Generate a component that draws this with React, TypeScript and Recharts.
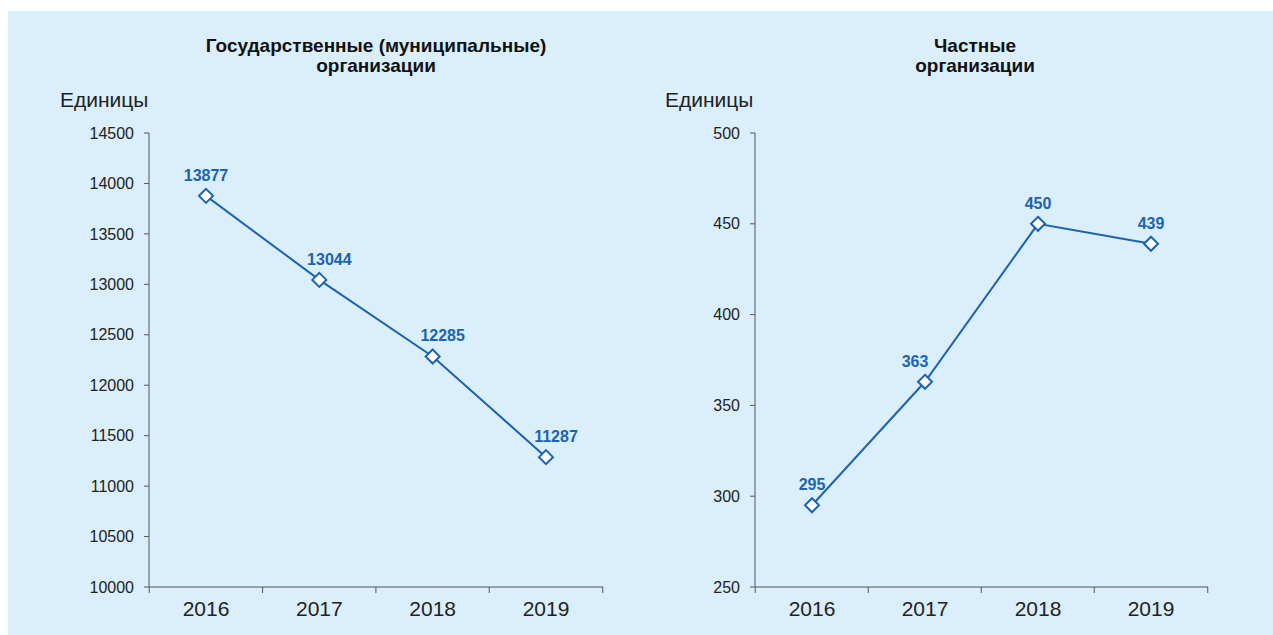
import { LabelList, Line, LineChart, XAxis, YAxis } from 'recharts'

const years = ['2016', '2017', '2018', '2019']
const publicOrgs = [13877, 13044, 12285, 11287]
const privateOrgs = [295, 363, 450, 439]
const publicTicks = [10000, 10500, 11000, 11500, 12000, 12500, 13000, 13500, 14000, 14500]
const privateTicks = [250, 300, 350, 400, 450, 500]

const publicData = years.map((year, i) => ({ year, value: publicOrgs[i] }))
const privateData = years.map((year, i) => ({ year, value: privateOrgs[i] }))

// nudges for value labels so they don't sit on the line
const publicLabelDx = [0, 10, 10, 10]
const privateLabelDx = [0, -10, 0, 0]

const blue = '#1b63b2'
const axisGray = '#555'
const font = '"Liberation Sans", Arial, sans-serif'
const halfStep = 56.75

function Diamond(props: any) {
  const { cx, cy } = props
  if (cx == null || cy == null) return null
  const r = 7
  return (
    <path
      d={`M${cx},${cy - r}L${cx + r},${cy}L${cx},${cy + r}L${cx - r},${cy}Z`}
      fill="#fff"
      stroke={blue}
      strokeWidth={2}
    />
  )
}

// year label centred on the point, tick marks on the band edges
function YearTick(props: any) {
  const { x, y, payload, index } = props
  return (
    <g>
      <line x1={x - halfStep} x2={x - halfStep} y1={y} y2={y + 6} stroke={axisGray} />
      {index === years.length - 1 && (
        <line x1={x + halfStep} x2={x + halfStep} y1={y} y2={y + 6} stroke={axisGray} />
      )}
      <text
        x={x}
        y={y + 29}
        textAnchor="middle"
        fill="#222"
        fontSize={21}
        fontFamily={font}
      >
        {payload.value}
      </text>
    </g>
  )
}

function makeValueLabel(dx: number[]) {
  return (props: any) => {
    const { x, y, value, index } = props
    return (
      <text
        x={x + dx[index]}
        y={y - 15}
        textAnchor="middle"
        fill={blue}
        fontSize={16}
        fontWeight="bold"
        fontFamily={font}
      >
        {value}
      </text>
    )
  }
}

interface PanelProps {
  data: { year: string; value: number }[]
  ticks: number[]
  labelDx: number[]
  left: number
  margin: { top: number; right: number; bottom: number; left: number }
}

function Panel({ data, ticks, labelDx, left, margin }: PanelProps) {
  return (
    <div style={{ position: 'absolute', left, top: 0 }}>
      <LineChart width={620} height={624} data={data} margin={margin}>
        <XAxis
          dataKey="year"
          padding={{ left: 57, right: 57 }}
          axisLine={{ stroke: axisGray }}
          tickLine={false}
          tickSize={0}
          tickMargin={0}
          height={40}
          interval={0}
          tick={<YearTick />}
        />
        <YAxis
          domain={[ticks[0], ticks[ticks.length - 1]]}
          ticks={ticks}
          interval={0}
          width={60}
          axisLine={{ stroke: axisGray }}
          tickLine={{ stroke: axisGray }}
          tickSize={5}
          tickMargin={10}
          tick={{ fill: '#222', fontSize: 16, fontFamily: font }}
        />
        <Line
          dataKey="value"
          stroke={blue}
          strokeWidth={2}
          dot={<Diamond />}
          activeDot={false}
          isAnimationActive={false}
        >
          <LabelList dataKey="value" content={makeValueLabel(labelDx)} />
        </Line>
      </LineChart>
    </div>
  )
}

const titleStyle: React.CSSProperties = {
  position: 'absolute',
  width: 440,
  textAlign: 'center',
  fontFamily: font,
  fontWeight: 'bold',
  fontSize: 19,
  lineHeight: '20px',
  color: '#111',
}

const unitStyle: React.CSSProperties = {
  position: 'absolute',
  fontFamily: font,
  fontSize: 21,
  color: '#222',
}

export default function App() {
  return (
    <div
      style={{
        position: 'absolute',
        left: 8,
        top: 11,
        width: 1265,
        height: 624,
        background: '#daeffb',
      }}
    >
      <div style={{ ...titleStyle, left: 148, top: 25 }}>
        Государственные (муниципальные)
        <br />
        организации
      </div>
      <div style={{ ...titleStyle, left: 747, top: 25 }}>
        Частные
        <br />
        организации
      </div>
      <div style={{ ...unitStyle, left: 52, top: 77 }}>Единицы</div>
      <div style={{ ...unitStyle, left: 657, top: 77 }}>Единицы</div>
      <Panel
        data={publicData}
        ticks={publicTicks}
        labelDx={publicLabelDx}
        left={0}
        margin={{ top: 122, right: 25, bottom: 8, left: 81 }}
      />
      <Panel
        data={privateData}
        ticks={privateTicks}
        labelDx={privateLabelDx}
        left={620}
        margin={{ top: 122, right: 40, bottom: 8, left: 67 }}
      />
    </div>
  )
}
